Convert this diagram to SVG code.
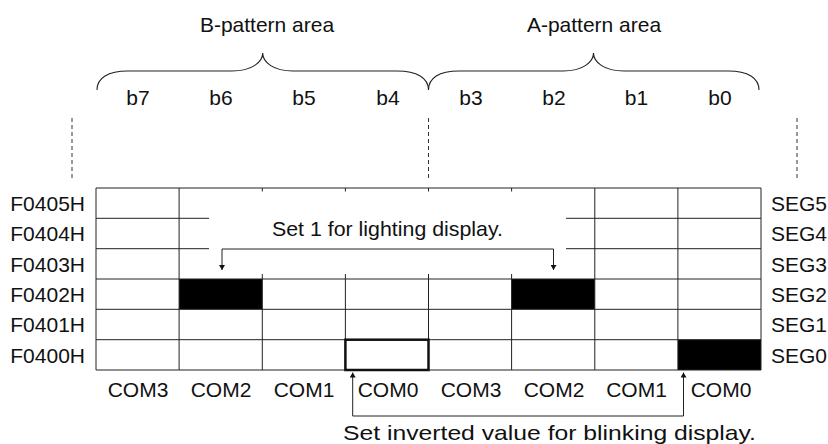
<svg xmlns="http://www.w3.org/2000/svg" width="828" height="444" viewBox="0 0 828 444">
<style>
text{font-family:"Liberation Sans",Arial,sans-serif;font-size:21px;fill:#111}
.c{text-anchor:middle}
.e{text-anchor:end}
.g{stroke:#222;stroke-width:1;fill:none}
.br{stroke:#222;stroke-width:1.1;fill:none}
.ds{stroke:#333;stroke-width:1;stroke-dasharray:4 3;fill:none}
.blk{fill:#000}
.cn{stroke:#222;stroke-width:1;fill:none;marker-start:url(#ah);marker-end:url(#ah)}
</style>
<defs>
<marker id="ah" viewBox="0 0 5 6" refX="5" refY="3" markerWidth="5" markerHeight="6" markerUnits="userSpaceOnUse" orient="auto-start-reverse">
<path d="M0,0 L5,3 L0,6 z" fill="#111"/>
</marker>
</defs>
<rect width="828" height="444" fill="#fff"/>
<g id="b-area">
<text class="c" x="267" y="32">B-pattern area</text>
<path class="br" d="M97,90 C97,78 108,71 128,71 L232,71 C252,71 262.7,62 262.7,53 C262.7,62 273,71 293,71 L397,71 C417,71 428.5,78 428.5,90"/>
</g>
<g id="a-area">
<text class="c" x="594" y="32">A-pattern area</text>
<path class="br" d="M428.5,90 C428.5,78 439,71 459,71 L563,71 C583,71 593.5,62 593.5,53 C593.5,62 604,71 624,71 L728,71 C748,71 759,78 759,90"/>
</g>
<g id="bits">
<text class="c" x="138" y="105">b7</text>
<text class="c" x="221" y="105">b6</text>
<text class="c" x="304" y="105">b5</text>
<text class="c" x="388" y="105">b4</text>
<text class="c" x="471" y="105">b3</text>
<text class="c" x="554" y="105">b2</text>
<text class="c" x="636.5" y="105">b1</text>
<text class="c" x="720" y="105">b0</text>
</g>
<g id="dividers">
<path class="ds" d="M72,118 V178 M428.5,118 V178 M797,118 V178"/>
</g>
<g id="table">
<rect class="blk" x="179.1" y="279" width="83.2" height="30.3"/>
<rect class="blk" x="511.6" y="279" width="83.2" height="30.3"/>
<rect class="blk" x="677.9" y="339.7" width="83.1" height="30.3"/>
<path class="g" d="M96,188 H761 M96,218.3 H209 M566,218.3 H761 M96,248.7 H209 M566,248.7 H761 M96,279 H761 M96,309.3 H761 M96,339.7 H761 M96,370 H761
M96,188 V370 M179.1,188 V370 M594.8,188 V370 M677.9,188 V370 M761,188 V370
M262.3,188 V191.5 M262.3,274 V370 M345.4,188 V191.5 M345.4,274 V370 M428.5,188 V191.5 M428.5,274 V370 M511.6,188 V191.5 M511.6,274 V370"/>
<rect x="345.4" y="339.7" width="83.1" height="30.3" fill="none" stroke="#111" stroke-width="2.5"/>
</g>
<g id="addresses">
<text class="e" x="85" y="210.5">F0405H</text>
<text class="e" x="85" y="241">F0404H</text>
<text class="e" x="85" y="271.5">F0403H</text>
<text class="e" x="85" y="301.5">F0402H</text>
<text class="e" x="85" y="332">F0401H</text>
<text class="e" x="85" y="362.5">F0400H</text>
</g>
<g id="segments">
<text x="771" y="210.5">SEG5</text>
<text x="771" y="241">SEG4</text>
<text x="771" y="271.5">SEG3</text>
<text x="771" y="301.5">SEG2</text>
<text x="771" y="332">SEG1</text>
<text x="771" y="362.5">SEG0</text>
</g>
<g id="commons">
<text class="c" x="138" y="397">COM3</text>
<text class="c" x="221" y="397">COM2</text>
<text class="c" x="304" y="397">COM1</text>
<text class="c" x="388" y="397">COM0</text>
<text class="c" x="471" y="397">COM3</text>
<text class="c" x="554" y="397">COM2</text>
<text class="c" x="636.5" y="397">COM1</text>
<text class="c" x="721" y="397">COM0</text>
</g>
<g id="notes">
<text x="272" y="236" textLength="231" lengthAdjust="spacingAndGlyphs">Set 1 for lighting display.</text>
<text x="343" y="440" textLength="413" lengthAdjust="spacingAndGlyphs">Set inverted value for blinking display.</text>
</g>
<g id="connectors">
<path class="cn" d="M222,270 V249 H553.5 V270"/>
<path class="cn" d="M352.7,372.5 V416 H683.5 V372.5"/>
</g>
</svg>
